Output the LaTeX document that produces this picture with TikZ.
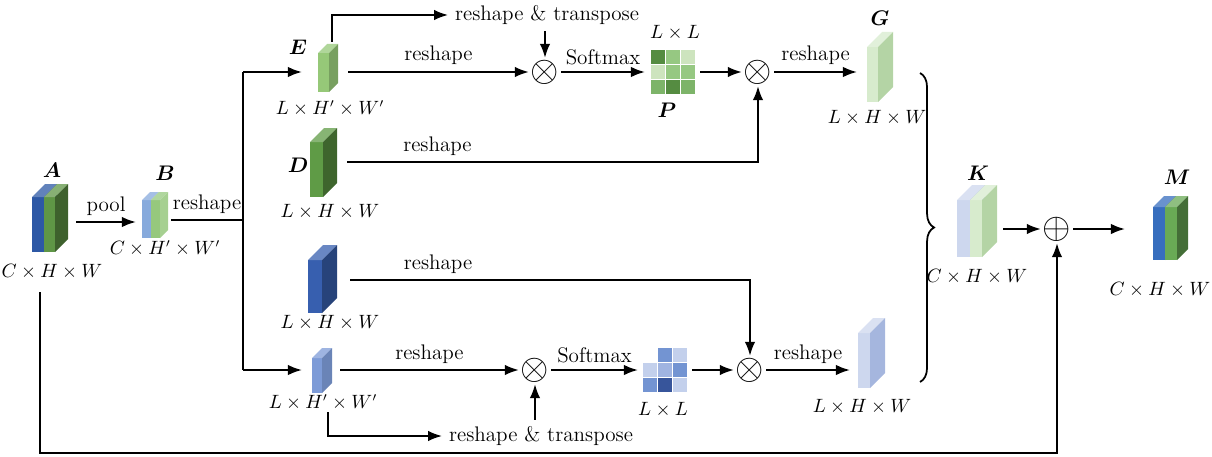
\documentclass[tikz,border=0pt]{standalone}
\usepackage{amsmath, amssymb}
\usepackage{xcolor}
\usepackage{tikz}
\usetikzlibrary{arrows.meta, positioning, decorations.pathreplacing}

\definecolor{aBlue}{RGB}{45,88,165}
\definecolor{aGreen}{RGB}{95,150,70}
\definecolor{bBlue}{RGB}{135,170,220}
\definecolor{bGreen}{RGB}{150,200,125}
\definecolor{eGreen}{RGB}{150,200,120}
\definecolor{dGreen}{RGB}{95,155,70}
\definecolor{cBlue}{RGB}{55,95,175}
\definecolor{fBlue}{RGB}{125,155,215}
\definecolor{gGreen}{RGB}{215,235,205}
\definecolor{gSide}{RGB}{180,212,165}
\definecolor{hBlue}{RGB}{205,215,238}
\definecolor{hSide}{RGB}{165,182,222}
\definecolor{mBlue}{RGB}{55,110,190}
\definecolor{mGreen}{RGB}{105,170,85}
\definecolor{pDark}{RGB}{85,140,65}
\definecolor{pMid}{RGB}{150,200,130}
\definecolor{pLite}{RGB}{205,228,190}
\definecolor{pMidd}{RGB}{125,180,105}
\definecolor{qDark}{RGB}{55,85,155}
\definecolor{qMid}{RGB}{115,148,210}
\definecolor{qLite}{RGB}{195,208,236}
\definecolor{qMidd}{RGB}{160,180,225}

% one slab of a feature map: x, y, width, height, depth, front, side
\newcommand{\slab}[7]{%
  \fill[#6] (#1,#2) rectangle ++(#3,#4);
  \fill[#6!75!white] (#1,#2) -- ++(#5,-#5) -- ++(#3,0) -- ++(-#5,#5) -- cycle;
  \fill[#7] (#1+#3,#2) -- ++(#5,-#5) -- ++(0,#4) -- ++(-#5,#5) -- cycle;
}
% 3x3 attention map: x, y, colours
\newcommand{\attmap}[3]{%
  \foreach \c [count=\k from 0] in {#3} {
    \pgfmathtruncatemacro\gx{mod(\k,3)}
    \pgfmathtruncatemacro\gy{floor(\k/3)}
    \fill[\c] (#1+15*\gx,#2+15*\gy) rectangle ++(14,14);
  }
}

\begin{document}
\begin{tikzpicture}[x=0.02cm, y=-0.02cm, >={Latex[length=8pt,width=6pt]}, line width=1.2pt,
    font=\fontsize{12}{14}\selectfont,
    dims/.style={font=\fontsize{10.5}{12}\selectfont},
    op/.style={inner sep=0.5pt, font=\fontsize{21}{21}\selectfont}]
    \useasboundingbox (0,0) rectangle (1212,456);

    % feature maps
    \slab{32}{197}{12}{55}{13}{aBlue}{aBlue!70!black}
    \slab{44}{197}{11}{55}{13}{aGreen}{aGreen!65!black}
    \slab{142}{200}{9}{38}{8}{bBlue}{bGreen!80!white}
    \slab{151}{200}{9}{38}{8}{bGreen}{bGreen!85!white}
    \slab{318}{53}{11}{39}{9}{eGreen}{eGreen!80!black}
    \slab{310}{142}{13}{55}{14}{dGreen}{dGreen!65!black}
    \slab{308}{260}{14}{53}{15}{cBlue}{cBlue!70!black}
    \slab{312}{358}{10}{35}{10}{fBlue}{fBlue!85!black}
    \slab{867}{47}{11}{55}{15}{gGreen}{gSide}
    \slab{858}{333}{12}{55}{15}{hBlue}{hSide}
    \slab{957}{200}{13}{57}{15}{hBlue}{hSide}
    \slab{970}{200}{12}{57}{15}{gGreen}{gSide}
    \slab{1153}{207}{12}{53}{11}{mBlue}{mBlue!70!black}
    \slab{1165}{207}{12}{53}{11}{mGreen}{mGreen!65!black}

    \attmap{651}{50}{pDark,pMid,pLite,pLite,pMid,pMid,pMidd,pDark,pMidd}
    \attmap{643}{348}{white,qMid,qLite,qLite,qMidd,qMid,qMid,qDark,qLite}

    % names and sizes
    \node at (52,170) {$\boldsymbol{A}$};
    \node[dims] at (52,272) {$C\times H\times W$};
    \node at (165,173) {$\boldsymbol{B}$};
    \node[dims] at (165,248) {$C\times H'\times W'$};
    \node at (298,47) {$\boldsymbol{E}$};
    \node[dims] at (330,108) {$L\times H'\times W'$};
    \node[dims] at (675,33) {$L\times L$};
    \node at (667,110) {$\boldsymbol{P}$};
    \node at (880,18) {$\boldsymbol{G}$};
    \node[dims] at (877,118) {$L\times H\times W$};
    \node at (298,165) {$\boldsymbol{D}$};
    \node[dims] at (330,212) {$L\times H\times W$};
    \node[dims] at (330,323) {$L\times H\times W$};
    \node[dims] at (323,402) {$L\times H'\times W'$};
    \node[dims] at (663,410) {$L\times L$};
    \node[dims] at (862,407) {$L\times H\times W$};
    \node at (978,173) {$\boldsymbol{K}$};
    \node[dims] at (977,277) {$C\times H\times W$};
    \node at (1177,177) {$\boldsymbol{M}$};
    \node[dims] at (1160,290) {$C\times H\times W$};

    % operators and text boxes
    \node[op] (m1) at (545,72) {$\otimes$};
    \node[op] (m2) at (758,72) {$\otimes$};
    \node[op] (m3) at (535,370) {$\otimes$};
    \node[op] (m4) at (750,370) {$\otimes$};
    \node[op] (p1) at (1057,229) {$\oplus$};
    \node (rt1) at (547,15) {reshape \& transpose};
    \node (rt2) at (541,436) {reshape \& transpose};

    % ports
    \coordinate (Aout) at (76,222);
    \coordinate (Bin) at (136,222);
    \coordinate (Bout) at (171,220);
    \coordinate (split) at (243,220);
    \coordinate (tTop) at (243,72);
    \coordinate (tBot) at (243,370);
    \coordinate (Ein) at (302,72);
    \coordinate (Fin) at (302,370);
    \coordinate (Eout) at (348,72);
    \coordinate (Etop) at (332,42);
    \coordinate (Pin) at (645,72);
    \coordinate (Pout) at (700,72);
    \coordinate (Gin) at (857,72);
    \coordinate (Dout) at (347,162);
    \coordinate (Cout) at (350,280);
    \coordinate (Fout) at (340,370);
    \coordinate (Fbot) at (328,412);
    \coordinate (Qin) at (638,370);
    \coordinate (Qout) at (692,370);
    \coordinate (Hin) at (850,370);
    \coordinate (Kout) at (1003,229);
    \coordinate (Min) at (1125,229);
    \coordinate (Abot) at (40,292);
    \coordinate (skip) at (1057,453);

    % connectors
    \draw[->] (Aout) -- node[above] {pool} (Bin);
    \draw (Bout) -- node[above] {reshape} (split);
    \draw (tTop) -- (tBot);
    \draw[->] (tTop) -- (Ein);
    \draw[->] (tBot) -- (Fin);

    \draw[->] (Eout) -- node[above] {reshape} (m1);
    \draw[->] (Etop) |- (rt1);
    \draw[->] (rt1.south -| m1) -- (m1);
    \draw[->] (m1) -- node[above] {Softmax} (Pin);
    \draw[->] (Pout) -- (m2);
    \draw[->] (m2) -- node[above] {reshape} (Gin);
    \draw[->] (Dout) -| node[pos=0.11, above] {reshape} (m2);

    \draw[->] (Cout) -| node[pos=0.11, above] {reshape} (m4);
    \draw[->] (Fout) -- node[above] {reshape} (m3);
    \draw[->] (Fbot) |- (rt2);
    \draw[->] (rt2.north -| m3) -- (m3);
    \draw[->] (m3) -- node[above] {Softmax} (Qin);
    \draw[->] (Qout) -- (m4);
    \draw[->] (m4) -- node[above] {reshape} (Hin);

    \draw[line width=1pt, decorate, decoration={brace, amplitude=8pt}] (920,73) -- (920,382);
    \draw[->] (Kout) -- (p1);
    \draw[->] (p1) -- (Min);
    \draw[->] (Abot) |- (skip) -- (p1);
\end{tikzpicture}
\end{document}
